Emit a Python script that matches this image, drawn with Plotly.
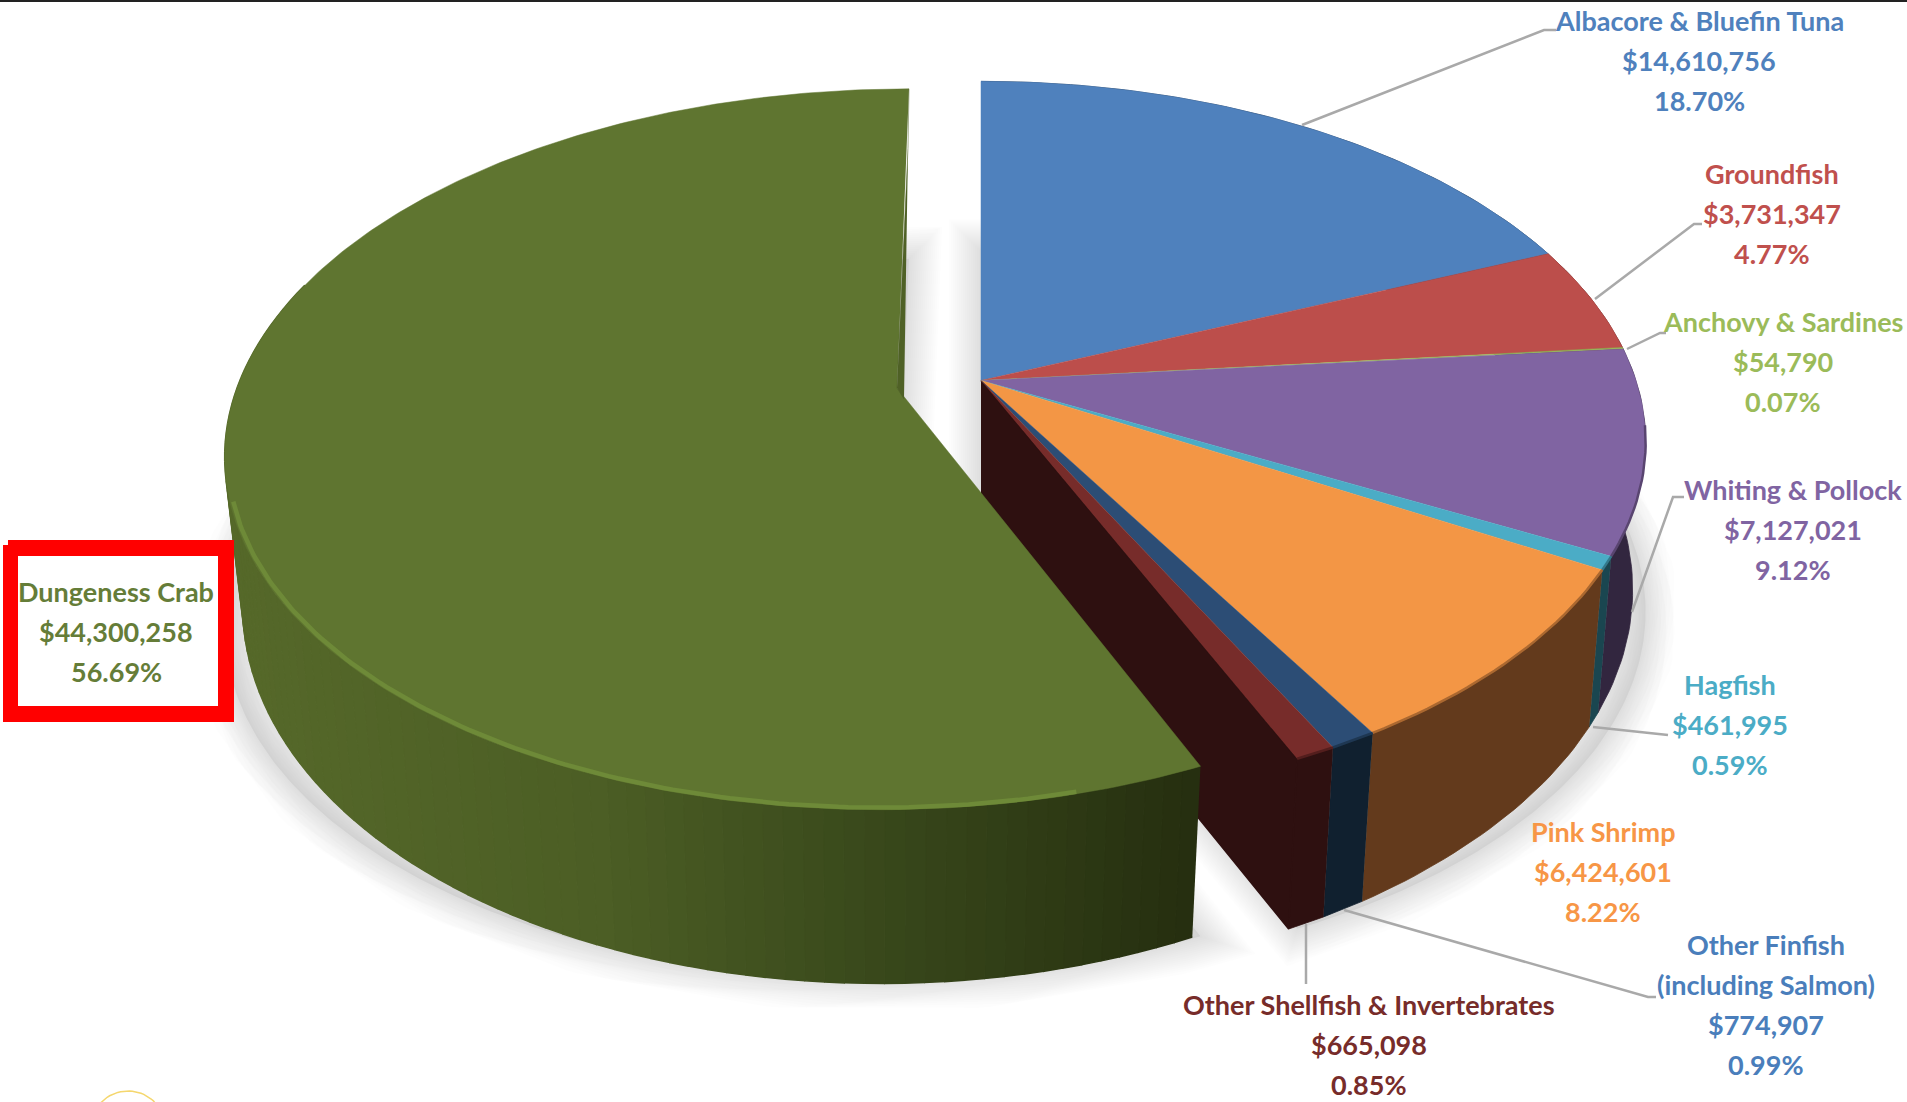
import numpy as np
import plotly.graph_objects as go

# ---- data ----
species = ["Albacore & Bluefin Tuna", "Groundfish", "Anchovy & Sardines", "Whiting & Pollock",
           "Hagfish", "Pink Shrimp", "Other Finfish<br>(including Salmon)",
           "Other Shellfish & Invertebrates", "Dungeness Crab"]
revenue = [14610756, 3731347, 54790, 7127021, 461995, 6424601, 774907, 665098, 44300258]
share_labels = ["18.70%", "4.77%", "0.07%", "9.12%", "0.59%", "8.22%", "0.99%", "0.85%", "56.69%"]

# ---- styles ----
top_colors = ["#4F81BD", "#BC4E4B", "#9BBB59", "#8064A2", "#4BACC6", "#F39645", "#2C4D75", "#772C2A", "#5F7530"]
rim_colors = ["#2A4566", "#672A28", "#536330", "#32263F", "#1A4650", "#633A1C", "#10202F", "#2E1010", "#4F6126"]
bevel_colors = ["#3C638F", "#914039", "#778F45", "#594570", "#33798B", "#AB6830", "#1E3752", "#531E1D", "#6E8A38"]
text_colors = ["#4F81BD", "#C0504D", "#9BBB59", "#8064A2", "#4BACC6", "#F79646", "#4A7EBB", "#772C2A", "#657D38"]
label_x = [1699, 1772, 1783, 1793, 1730, 1603, 1766, 1369, 116]
label_y = [60, 213, 361, 529, 724, 871, 1004, 1044, 631]
leaders = [
    [(1302, 125), (1544, 30), (1556, 30)],
    [(1595, 299), (1694, 224), (1702, 224)],
    [(1627, 349), (1660, 333), (1666, 333)],
    [(1632, 612), (1673, 497), (1684, 497)],
    [(1593, 727), (1668, 735)],
    [(1344, 910), (1648, 997), (1656, 997)],
    [(1306, 924), (1306, 984)],
]
FONT = "Lato, Open Sans, sans-serif"
FONT_SIZE = 27
LINE_GAP = 40

# ---- projection of the tilted pie ----
K, A = 0.17, 350.0
MAIN = (981.0, 380.5, 0.0, 655.0)
CRAB = (897.0, 388.0, 0.04, 660.0)


def proj(frac, origin):
    """Turn a clockwise fraction of the pie into screen coordinates."""
    cx, cy, shear, b = origin
    t = 2 * np.pi * np.asarray(frac, dtype=float)
    u, v = np.sin(t), np.cos(t)
    d = 1 + K * v
    y = -A * v / d
    x = b * u / d - shear * y
    return cx + x, cy + y


def drop(x, y, cx):
    depth = 157 + (y - 570) * 0.07
    return x - np.clip(0.027 * (x - cx), -18, 13), y + depth


def arc(f0, f1, n=None):
    n = n or max(3, int(abs(f1 - f0) * 360))
    return np.linspace(f0, f1, n)


fig = go.Figure()


def poly(x, y, color, lw=0.8, lcolor=None, fill=True):
    fig.add_trace(go.Scatter(
        x=list(x), y=list(y), mode="lines",
        fill="toself" if fill else "none", fillcolor=color if fill else None,
        line=dict(color=lcolor or color, width=lw), hoverinfo="skip", showlegend=False))


total = float(sum(revenue))
edges = np.concatenate([[0.0], np.cumsum(revenue) / total])
crab_i = len(revenue) - 1

# ---- soft drop shadow ----
SHIFT = 170
main_f = arc(0, edges[crab_i], 200)
mx, my = proj(main_f, MAIN)
main_sx = np.r_[MAIN[0], mx, MAIN[0]]
main_sy = np.r_[MAIN[1], my, MAIN[1]] + SHIFT
crab_f = arc(edges[crab_i], 1, 300)
cx_, cy_ = proj(crab_f, CRAB)
crab_sx = np.r_[CRAB[0], cx_, CRAB[0]]
crab_sy = np.r_[CRAB[1], cy_, CRAB[1]] + SHIFT
for sx, sy in ((main_sx, main_sy), (crab_sx, crab_sy)):
    poly(sx, sy, "rgba(0,0,0,0.05)", lw=0, lcolor="rgba(0,0,0,0)")
    for w in range(4, 68, 4):
        poly(sx, sy, None, lw=w, lcolor="rgba(0,0,0,0.0075)", fill=False)

# ---- main pie body: rim, inner wall, top, soft edge ----
for i in range(crab_i):
    f = arc(edges[i], edges[i + 1])
    x, y = proj(f, MAIN)
    xb, yb = drop(x, y, MAIN[0])
    poly(np.r_[x, xb[::-1]], np.r_[y, yb[::-1]], rim_colors[i])
ex, ey = proj(edges[crab_i], MAIN)
ex, ey = float(ex), float(ey)
bx, by = drop(ex, ey, MAIN[0])
poly([MAIN[0], ex, bx, MAIN[0]], [MAIN[1], ey, by, MAIN[1] + 170], "#2E1010", lw=1.5)
for i in range(crab_i):
    f = arc(edges[i], edges[i + 1])
    x, y = proj(f, MAIN)
    poly(np.r_[MAIN[0], x], np.r_[MAIN[1], y], top_colors[i], lw=0.5)
for i in range(3, crab_i):
    f = arc(max(edges[i], 0.27), edges[i + 1])
    x, y = proj(f, MAIN)
    poly(x, y, None, lw=2.5, lcolor=bevel_colors[i], fill=False)

# ---- crab slice: graded rim, top, inner wall, highlight ----
grad_x = [225, 600, 860, 1198]
grad_r = [0x56, 0x4C, 0x3A, 0x26]
grad_g = [0x69, 0x5E, 0x4A, 0x2F]
grad_b = [0x2A, 0x25, 0x1C, 0x10]
segs = np.linspace(edges[crab_i], 0.80, 90)
for f0, f1 in zip(segs[:-1], segs[1:]):
    x, y = proj(np.array([f0, f1]), CRAB)
    xb, yb = drop(x, y, CRAB[0])
    xm = x.mean()
    col = "rgb(%d,%d,%d)" % (np.interp(xm, grad_x, grad_r), np.interp(xm, grad_x, grad_g), np.interp(xm, grad_x, grad_b))
    poly(np.r_[x, xb[::-1]], np.r_[y, yb[::-1]], col, lw=1.5)

f = arc(edges[crab_i], 1, 300)
x, y = proj(f, CRAB)
poly(np.r_[CRAB[0], x], np.r_[CRAB[1], y], top_colors[crab_i], lw=0.5)

far_x, far_y = proj(1.0, CRAB)
far_x, far_y = float(far_x), float(far_y)
poly([far_x, far_x - 1, CRAB[0], CRAB[0] + 7], [far_y, far_y + 60, CRAB[1], CRAB[1] + 11], "#4F6126", lw=0.5)

# bevel highlight along the front edge
f = arc(0.46, 0.70, 120)
x, y = proj(f, CRAB)
poly(CRAB[0] + (x - CRAB[0]) * 0.995, CRAB[1] + (y - CRAB[1]) * 0.995, None, lw=4.5, lcolor=bevel_colors[crab_i], fill=False)

# ---- leader lines ----
for pts in leaders:
    fig.add_trace(go.Scatter(x=[p[0] for p in pts], y=[p[1] for p in pts], mode="lines",
                             line=dict(color="#A9A9A9", width=2.5), hoverinfo="skip", showlegend=False))

# ---- gold arc of the cropped logo ----
t = np.linspace(np.pi * 1.12, np.pi * 1.88, 30)
fig.add_trace(go.Scatter(x=128 + 36 * np.cos(t), y=1125 + 34 * np.sin(t), mode="lines",
                         line=dict(color="#F5D76E", width=1.5), hoverinfo="skip", showlegend=False))

# ---- red call-out box with rounded outer corners ----
poly([8, 229, 229, 8, 8], [545, 545, 717, 717, 545], "#FF0000", lw=10)
poly([18, 218, 218, 18, 18], [556, 556, 706, 706, 556], "#FFFFFF", lw=0)

# ---- labels, one annotation per line so the spacing can be set ----
for name, val, pct, col, lx, ly in zip(species, revenue, share_labels, text_colors, label_x, label_y):
    lines = name.split("<br>") + [f"${val:,}", pct]
    for j, line in enumerate(lines):
        fig.add_annotation(x=lx, y=ly + (j - (len(lines) - 1) / 2) * LINE_GAP, xref="x", yref="y",
                           showarrow=False, xanchor="center", yanchor="middle", text=line,
                           font=dict(family=FONT, size=FONT_SIZE, color=col, weight="bold"))

fig.add_shape(type="line", x0=0, x1=1907, y0=1, y1=1, line=dict(color="#222222", width=2), layer="above")

fig.update_layout(
    width=1907, height=1102, margin=dict(l=0, r=0, t=0, b=0), autosize=False,
    paper_bgcolor="white", plot_bgcolor="white", showlegend=False,
    xaxis=dict(range=[0, 1907], visible=False, fixedrange=True),
    yaxis=dict(range=[1102, 0], visible=False, fixedrange=True),
)
fig.write_html("out.html", config={"displayModeBar": False}, post_script="document.body.style.margin='0';")
